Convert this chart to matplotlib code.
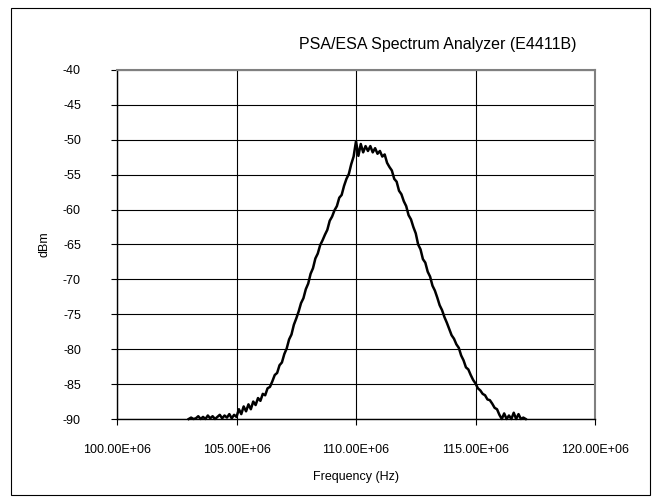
import matplotlib.pyplot as plt
from matplotlib.patches import Rectangle

plt.rcParams['font.family'] = ['Liberation Sans', 'DejaVu Sans']
plt.rcParams['axes.unicode_minus'] = False

freq_mhz = [
    103.0, 103.1, 103.2, 103.3, 103.4, 103.5, 103.6, 103.7, 103.8, 103.9,
    104.0, 104.1, 104.2, 104.3, 104.4, 104.5, 104.6, 104.7, 104.8, 104.9,
    105.0, 105.1, 105.2, 105.3, 105.4, 105.5, 105.6, 105.7, 105.8, 105.9,
    106.0, 106.1, 106.2, 106.3, 106.4, 106.5, 106.6, 106.7, 106.8, 106.9,
    107.0, 107.1, 107.2, 107.3, 107.4, 107.5, 107.6, 107.7, 107.8, 107.9,
    108.0, 108.1, 108.2, 108.3, 108.4, 108.5, 108.6, 108.7, 108.8, 108.9,
    109.0, 109.1, 109.2, 109.3, 109.4, 109.5, 109.6, 109.7, 109.8, 109.9,
    110.0, 110.1, 110.2, 110.3, 110.4, 110.5, 110.6, 110.7, 110.8, 110.9,
    111.0, 111.1, 111.2, 111.3, 111.4, 111.5, 111.6, 111.7, 111.8, 111.9,
    112.0, 112.1, 112.2, 112.3, 112.4, 112.5, 112.6, 112.7, 112.8, 112.9,
    113.0, 113.1, 113.2, 113.3, 113.4, 113.5, 113.6, 113.7, 113.8, 113.9,
    114.0, 114.1, 114.2, 114.3, 114.4, 114.5, 114.6, 114.7, 114.8, 114.9,
    115.0, 115.1, 115.2, 115.3, 115.4, 115.5, 115.6, 115.7, 115.8, 115.9,
    116.0, 116.1, 116.2, 116.3, 116.4, 116.5, 116.6, 116.7, 116.8, 116.9,
    117.0, 117.1,
]

level_dbm = [
    -90.0, -89.8, -90.0, -89.9, -89.6, -90.0, -89.7, -90.0, -89.5, -89.9,
    -89.6, -90.0, -89.7, -89.4, -89.9, -89.5, -89.8, -89.3, -89.9, -89.4,
    -89.7, -88.6, -89.3, -88.2, -88.9, -87.9, -88.6, -87.5, -88.0, -87.0,
    -87.4, -86.4, -86.6, -85.6, -85.4, -84.6, -83.7, -83.4, -82.3, -81.9,
    -80.7, -79.9, -78.6, -77.9, -76.5, -75.6, -74.6, -73.4, -72.7, -71.4,
    -70.6, -69.2, -68.4, -67.0, -66.3, -65.1, -64.4, -63.6, -62.9, -61.6,
    -61.0, -60.1, -59.5, -58.3, -57.9, -56.6, -55.6, -54.9, -53.5, -52.4,
    -50.2, -52.3, -50.6, -51.8, -50.9, -51.6, -50.9, -51.8, -51.2, -52.0,
    -51.6, -52.4, -52.1, -53.3, -53.9, -54.4, -55.6, -56.0, -57.3, -57.8,
    -58.8, -59.5, -60.8, -61.4, -62.5, -63.4, -65.0, -65.7, -67.1, -67.6,
    -68.9, -69.6, -70.9, -71.6, -72.6, -73.7, -74.4, -75.4, -76.2, -77.1,
    -78.0, -78.5, -79.3, -79.8, -80.9, -81.6, -82.6, -82.9, -83.7, -84.4,
    -84.9, -85.6, -85.9, -86.4, -86.6, -87.2, -87.3, -87.8, -88.4, -88.6,
    -89.4, -90.0, -89.2, -90.0, -89.5, -90.0, -89.1, -90.0, -89.3, -90.0,
    -89.8, -90.0,
]

x_ticks = [100e6, 105e6, 110e6, 115e6, 120e6]
x_tick_labels = ['100.00E+06', '105.00E+06', '110.00E+06', '115.00E+06', '120.00E+06']
y_ticks = [-40, -45, -50, -55, -60, -65, -70, -75, -80, -85, -90]

W, H = 659, 498
fig = plt.figure(figsize=(W / 100, H / 100), dpi=100)

# outer chart border
fig.patches.append(Rectangle((11 / W, 1 - 495 / H), 639 / W, 487 / H,
                             transform=fig.transFigure, fill=False,
                             edgecolor='black', linewidth=0.8))

ax = fig.add_axes([117 / W, 1 - 419 / H, 478 / W, 349 / H])

freq_hz = [f * 1e6 for f in freq_mhz]
ax.plot(freq_hz, level_dbm, color='black', linewidth=1.8, clip_on=False, zorder=5)

ax.set_xlim(100e6, 120e6)
ax.set_ylim(-90, -40)
ax.set_xticks(x_ticks)
ax.set_xticklabels(x_tick_labels)
ax.set_yticks(y_ticks)

# gridlines
ax.grid(True, color='black', linewidth=0.8)
ax.set_axisbelow(True)

for s in ['top', 'right']:
    ax.spines[s].set_color('#808080')
    ax.spines[s].set_linewidth(1.5)
for s in ['left', 'bottom']:
    ax.spines[s].set_color('black')
    ax.spines[s].set_linewidth(1.0)

ax.tick_params(direction='out', length=4, width=0.8, labelsize=9, pad=14)
ax.tick_params(axis='y', pad=22)

ax.set_xlabel('Frequency (Hz)', fontsize=9, labelpad=11)
ax.set_ylabel('dBm', fontsize=9, labelpad=9)

fig.text(438 / W, 1 - 44 / H, 'PSA/ESA Spectrum Analyzer (E4411B)',
         ha='center', va='center', fontsize=11.5)

fig.savefig('out.png', dpi=100)
